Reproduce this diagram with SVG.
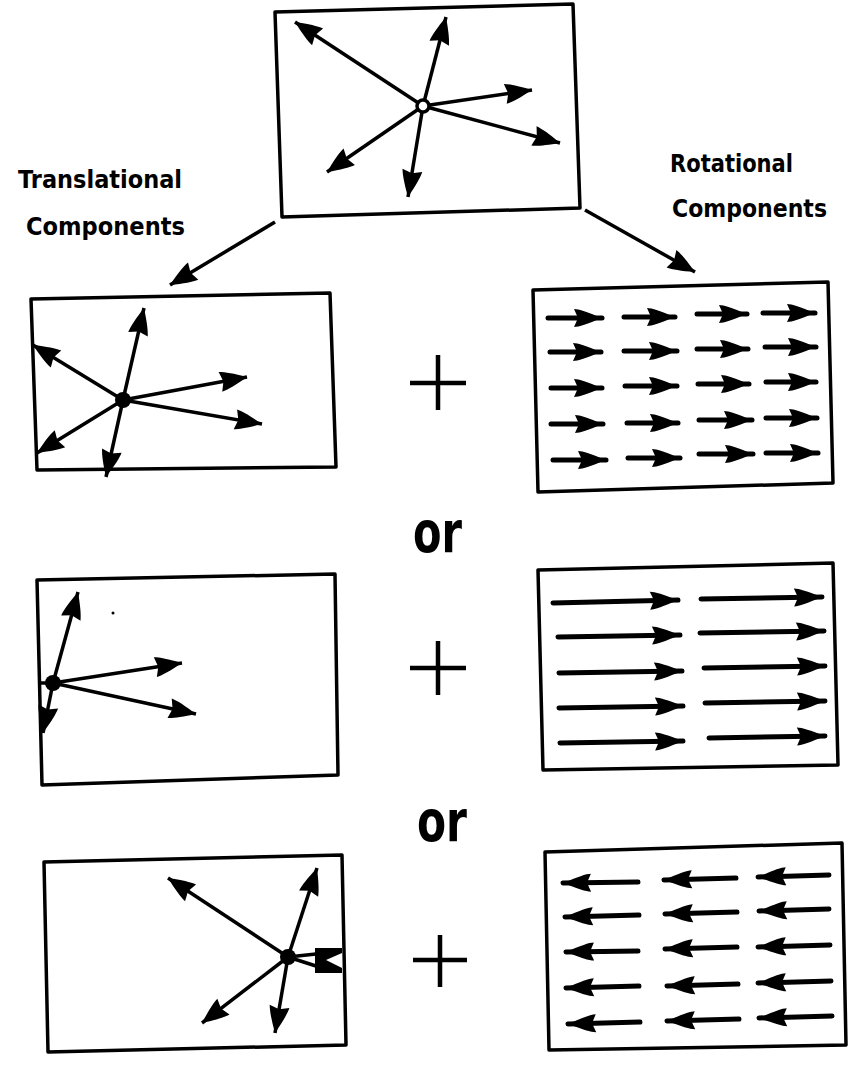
<svg xmlns="http://www.w3.org/2000/svg" width="848" height="1066" viewBox="0 0 848 1066">
<defs>
<style>
.bx{fill:none;stroke:#000;stroke-width:3.5;stroke-linejoin:round}
.st{fill:none;stroke:#000;stroke-width:3.5;marker-end:url(#sh)}
.gr{fill:none;stroke:#000;stroke-width:5;stroke-linecap:round;marker-end:url(#gh)}
.pl{fill:none;stroke:#000;stroke-width:4.5}
.lb{font-family:"DejaVu Sans","Liberation Sans",sans-serif;font-weight:bold;font-size:24px;fill:#000}
.or{font-family:"DejaVu Sans","Liberation Sans",sans-serif;font-weight:bold;font-size:57px;fill:#000}
</style>
<marker id="sh" markerUnits="userSpaceOnUse" markerWidth="30" markerHeight="22" refX="27" refY="10" orient="auto" overflow="visible">
<path d="M0,0 C6,1 14,4 27,10 C14,16 6,19 0,20 L3,10 Z" fill="#000"/>
</marker>
<marker id="gh" markerUnits="userSpaceOnUse" markerWidth="30" markerHeight="20" refX="28" refY="9" orient="auto" overflow="visible">
<path d="M0,0 C5,0 13,3 28,9 C13,15 5,18 0,18 L4,9 Z" fill="#000"/>
</marker>
</defs>
<rect width="848" height="1066" fill="#fff"/>

<g id="top">
<polygon class="bx" points="275,12 573,4 580,208 282,217"/>
<path class="st" d="M423,106 L295,22"/>
<path class="st" d="M423,106 L446,17"/>
<path class="st" d="M423,106 L532,90"/>
<path class="st" d="M423,106 L560,143"/>
<path class="st" d="M423,106 L327,172"/>
<path class="st" d="M423,106 L408,197"/>
<circle cx="423" cy="106" r="6" fill="#fff" stroke="#000" stroke-width="3.5"/>
</g>

<g id="labels">
<text class="lb" x="18" y="188" textLength="164" lengthAdjust="spacingAndGlyphs">Translational</text>
<text class="lb" x="26" y="235" textLength="159" lengthAdjust="spacingAndGlyphs">Components</text>
<text class="lb" x="670" y="172" textLength="123" lengthAdjust="spacingAndGlyphs">Rotational</text>
<text class="lb" x="672" y="217" textLength="155" lengthAdjust="spacingAndGlyphs">Components</text>
</g>

<g id="connectors">
<path class="st" d="M275,222 L170,285"/>
<path class="st" d="M585,210 L695,272"/>
</g>

<g id="trans1">
<polygon class="bx" points="31,299 330,293 336,467 37,470"/>
<path class="st" d="M123,400 L144,308"/>
<path class="st" d="M123,400 L33,345"/>
<path class="st" d="M123,400 L247,377"/>
<path class="st" d="M123,400 L262,424"/>
<path class="st" d="M123,400 L37,453"/>
<path class="st" d="M123,400 L106,477"/>
<circle cx="123" cy="400" r="8" fill="#000"/>
</g>

<g id="plus1"><path class="pl" d="M410,383 H466 M438,355 V410"/></g>

<g id="rot1">
<polygon class="bx" points="533,290 828,282 833,483 538,492"/>
<path class="gr" d="M548,318 L602,318"/>
<path class="gr" d="M624,317 L675,317"/>
<path class="gr" d="M697,314 L747,314"/>
<path class="gr" d="M763,313 L815,313"/>
<path class="gr" d="M550,352 L601,352"/>
<path class="gr" d="M624,351 L677,351"/>
<path class="gr" d="M697,349 L748,349"/>
<path class="gr" d="M765,347 L816,347"/>
<path class="gr" d="M551,388 L602,388"/>
<path class="gr" d="M625,386 L677,386"/>
<path class="gr" d="M698,384 L749,384"/>
<path class="gr" d="M766,382 L816,382"/>
<path class="gr" d="M551,424 L603,424"/>
<path class="gr" d="M627,423 L678,423"/>
<path class="gr" d="M699,420 L752,420"/>
<path class="gr" d="M766,418 L817,418"/>
<path class="gr" d="M553,460 L606,460"/>
<path class="gr" d="M628,458 L680,458"/>
<path class="gr" d="M699,454 L753,454"/>
<path class="gr" d="M766,453 L818,453"/>
</g>

<g id="or1"><text class="or" x="413" y="552" textLength="49" lengthAdjust="spacingAndGlyphs">or</text></g>

<g id="trans2">
<polygon class="bx" points="37,580 335,574 338,775 42,785"/>
<path class="st" d="M53,683 L78,592"/>
<path class="st" d="M53,683 L182,663"/>
<path class="st" d="M53,683 L196,714"/>
<path class="st" d="M53,683 L43,733"/>
<path d="M53,683 L40,683" stroke="#000" stroke-width="3.5"/>
<circle cx="53" cy="683" r="8" fill="#000"/>
<circle cx="113" cy="613" r="1.5" fill="#000"/>
</g>

<g id="plus2"><path class="pl" d="M410,668 H466 M438,641 V695"/></g>

<g id="rot2">
<polygon class="bx" points="538,570 833,563 838,765 543,770"/>
<path class="gr" d="M553,603 L678,600"/>
<path class="gr" d="M558,637 L680,635"/>
<path class="gr" d="M559,673 L682,671"/>
<path class="gr" d="M559,708 L683,706"/>
<path class="gr" d="M560,743 L683,741"/>
<path class="gr" d="M701,599 L822,597"/>
<path class="gr" d="M700,633 L824,631"/>
<path class="gr" d="M704,668 L825,666"/>
<path class="gr" d="M705,703 L825,701"/>
<path class="gr" d="M709,738 L825,736"/>
</g>

<g id="or2"><text class="or" x="417" y="841" textLength="50" lengthAdjust="spacingAndGlyphs">or</text></g>

<g id="trans3">
<polygon class="bx" points="44,862 342,855 346,1045 48,1052"/>
<path class="st" d="M288,957 L168,878"/>
<path class="st" d="M288,957 L317,868"/>
<path class="st" d="M288,957 L202,1023"/>
<path class="st" d="M288,957 L275,1033"/>
<path d="M288,957 L316,954 M288,957 L316,966" stroke="#000" stroke-width="3.5" fill="none"/>
<path d="M315,948 L342,948 L342,953 L326,960 L342,968 L342,973 L315,973 Z" fill="#000"/>
<circle cx="288" cy="957" r="8" fill="#000"/>
</g>

<g id="plus3"><path class="pl" d="M413,960 H467 M440,935 V987"/></g>

<g id="rot3">
<polygon class="bx" points="545,852 842,843 846,1045 549,1050"/>
<path class="gr" d="M638,882 L563,883"/>
<path class="gr" d="M639,915 L565,917"/>
<path class="gr" d="M638,951 L566,952"/>
<path class="gr" d="M639,986 L566,988"/>
<path class="gr" d="M640,1022 L568,1024"/>
<path class="gr" d="M736,878 L664,880"/>
<path class="gr" d="M737,912 L665,914"/>
<path class="gr" d="M737,947 L665,949"/>
<path class="gr" d="M738,984 L667,986"/>
<path class="gr" d="M739,1019 L667,1021"/>
<path class="gr" d="M829,875 L758,877"/>
<path class="gr" d="M829,909 L759,911"/>
<path class="gr" d="M830,945 L758,947"/>
<path class="gr" d="M831,981 L758,983"/>
<path class="gr" d="M832,1016 L759,1018"/>
</g>
</svg>
